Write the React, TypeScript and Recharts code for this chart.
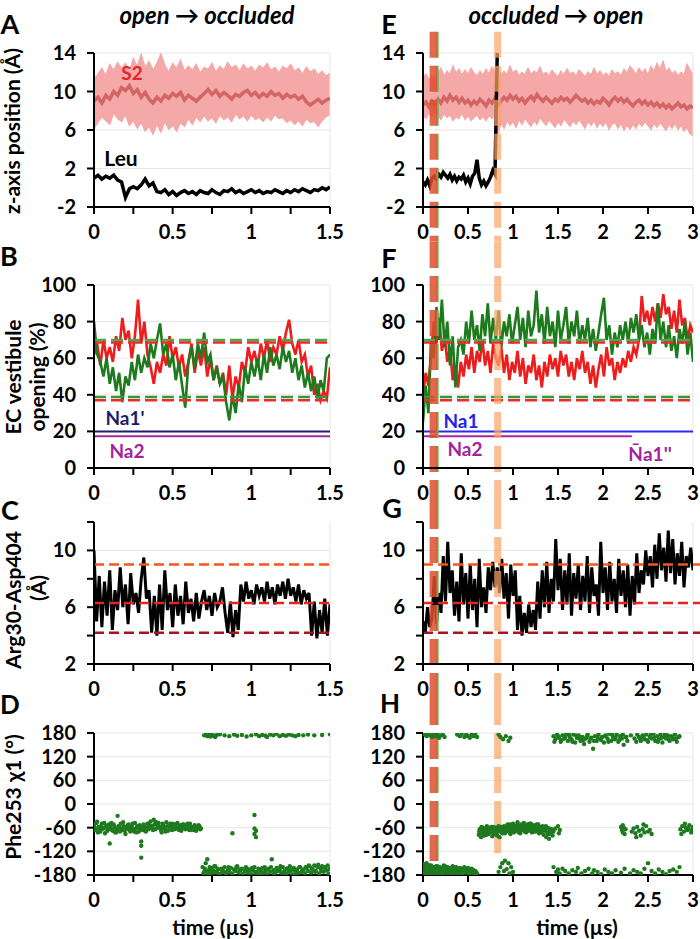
import React from "react"
import { ComposedChart, ScatterChart, Line, Area, Scatter, XAxis, YAxis, CartesianGrid, ReferenceLine } from "recharts"

const FONT = "Lato, 'Open Sans', sans-serif"

// time axes (µs)
const leftTicks = [0, 0.25, 0.5, 0.75, 1, 1.25, 1.5]
const rightTicks = [0, 0.25, 0.5, 0.75, 1, 1.25, 1.5, 1.75, 2, 2.25, 2.5, 2.75, 3]

// A: z-axis position, open -> occluded (dt 0.025)
const s2HighOpen = [
  11.2, 11.8, 12.4, 11.6, 12.8, 12.2, 13.0, 12.4, 12.9, 12.1,
  13.4, 12.6, 13.8, 12.5, 13.1, 12.2, 12.9, 13.9, 12.7, 12.0,
  12.9, 12.4, 13.2, 12.1, 12.6, 12.2, 12.8, 11.9, 12.5, 12.3,
  12.9, 12.0, 12.6, 12.2, 13.0, 12.4, 12.7, 12.1, 12.8, 12.3,
  12.6, 12.0, 12.7, 12.4, 12.9, 12.2, 12.5, 11.9, 12.6, 12.3,
  12.8, 12.1, 12.4, 11.8, 12.5, 12.0, 12.3, 11.7, 12.1, 11.6,
  11.9,
]
const s2LowOpen = [
  6.2, 6.8, 7.4, 7.0, 6.6, 7.8, 7.2, 6.9, 7.6, 6.5,
  7.0, 6.2, 6.8, 5.9, 6.4, 5.6, 6.6, 5.8, 6.9, 6.1,
  6.5, 5.9, 6.8, 6.4, 7.2, 6.6, 7.4, 6.9, 7.5, 7.0,
  7.3, 6.8, 7.6, 7.1, 7.4, 6.9, 7.7, 7.2, 7.5, 7.0,
  7.6, 7.1, 7.3, 6.9, 7.4, 7.0, 7.6, 7.2, 7.3, 6.8,
  7.1, 6.6, 7.0, 6.5, 7.2, 6.8, 6.9, 6.4, 7.0, 7.4,
  7.6,
]
const s2MidOpen = [
  9.0, 9.4, 8.8, 9.6, 9.2, 10.0, 9.6, 10.4, 10.1, 10.6,
  9.8, 10.2, 9.4, 9.9, 9.2, 8.8, 9.4, 9.0, 9.6, 9.3,
  9.8, 9.5, 9.9, 9.1, 9.6, 9.3, 9.0, 9.4, 9.8, 10.2,
  9.7, 10.1, 9.5, 9.9, 9.6, 9.2, 9.7, 9.5, 9.9, 10.1,
  9.6, 9.9, 9.4, 9.8, 9.5, 10.0, 9.6, 9.8, 9.3, 9.7,
  9.4, 9.6, 9.2, 9.5, 8.9, 8.6, 8.9, 9.2, 8.8, 9.1,
  9.3,
]
const leuOpen = [
  1.0, 1.3, 0.9, 1.2, 1.0, 1.3, 0.8, 0.6, -1.0, -0.1,
  0.1, -0.1, 0.3, 0.9, 0.2, 0.5, -0.4, -0.5, -0.2, -0.7,
  -0.4, -0.8, -0.5, -0.3, -0.6, -0.4, -0.7, -0.3, -0.5, -0.6,
  -0.2, -0.5, -0.7, -0.3, -0.4, -0.1, -0.5, -0.3, -0.6, -0.4,
  -0.2, -0.5, -0.3, -0.6, -0.4, -0.5, -0.2, -0.4, -0.6, -0.3,
  -0.5, -0.2, -0.4, -0.1, -0.3, -0.5, -0.2, -0.3, 0.0, -0.2,
  0.1,
]

// E: z-axis position, occluded -> open (dt 1/30)
const s2HighClosed = [
  11.4, 11.8, 11.2, 11.6, 11.3, 11.9, 12.4, 11.6, 12.1, 11.8,
  12.6, 11.9, 12.3, 11.7, 12.2, 11.8, 12.4, 11.9, 11.6, 12.1,
  11.7, 12.3, 11.8, 12.5, 12.0, 12.3, 11.7, 12.1, 11.8, 12.6,
  11.9, 12.2, 11.6, 12.0, 11.7, 12.4, 11.8, 12.1, 11.9, 12.5,
  11.7, 12.0, 11.6, 12.2, 11.8, 11.5, 12.1, 11.7, 12.3, 11.8,
  12.0, 11.6, 12.2, 11.9, 11.5, 12.0, 11.7, 12.4, 11.8, 12.1,
  11.6, 11.9, 11.5, 12.2, 11.8, 12.0, 11.6, 12.3, 11.9, 12.6,
  12.2, 11.8, 12.4, 11.9, 12.3, 11.7, 12.6, 12.1, 12.9, 12.3,
  13.1, 12.0, 12.4, 11.8, 12.1, 11.6, 12.0, 11.7, 12.8, 12.2,
  11.8,
]
const s2LowClosed = [
  7.6, 7.2, 7.8, 7.4, 7.9, 7.5, 7.1, 7.7, 7.3, 7.6,
  7.0, 7.4, 7.2, 7.8, 7.1, 7.5, 7.0, 7.3, 7.6, 7.1,
  7.4, 7.0, 7.5, 7.2, 7.6, 5.6, 6.8, 6.2, 7.0, 6.5,
  6.9, 6.3, 7.1, 6.6, 7.2, 6.8, 6.4, 7.0, 6.6, 7.3,
  6.9, 6.5, 7.1, 6.7, 6.3, 6.9, 6.5, 7.2, 6.8, 6.4,
  7.0, 6.6, 7.1, 6.7, 6.2, 6.9, 6.5, 7.0, 6.3, 6.8,
  6.4, 6.9, 6.1, 6.6, 6.8, 6.2, 6.7, 6.0, 6.5, 6.1,
  6.6, 6.2, 6.8, 6.4, 6.9, 6.5, 6.1, 6.7, 6.3, 6.8,
  6.4, 6.0, 6.6, 6.2, 6.7, 6.1, 6.5, 5.9, 6.3, 5.6,
  5.4,
]
const s2MidClosed = [
  8.6, 8.9, 8.4, 9.0, 8.7, 9.2, 8.8, 9.4, 9.0, 9.6,
  9.1, 9.4, 8.9, 9.3, 8.8, 9.1, 8.6, 9.0, 8.7, 9.2,
  8.9, 8.5, 9.1, 8.8, 9.3, 8.6, 9.0, 9.4, 9.1, 9.6,
  9.2, 9.5, 9.0, 9.3, 8.8, 9.2, 9.5, 9.1, 9.7, 9.3,
  9.0, 9.4, 9.1, 8.8, 9.2, 9.0, 9.4, 9.1, 9.3, 8.9,
  9.2, 9.6, 9.3, 9.0, 9.2, 8.8, 9.1, 8.7, 9.0, 8.8,
  9.3, 9.0, 8.6, 9.1, 9.4, 9.0, 9.3, 8.9, 9.2, 8.8,
  8.5, 8.9, 9.1, 8.7, 9.0, 8.6, 8.9, 8.5, 8.8, 8.4,
  8.7, 8.3, 8.6, 8.2, 8.5, 8.8, 8.4, 8.6, 8.2, 8.5,
  8.3,
]
// Leu, dt 0.025 up to 0.825 where it leaves the site
const leuClosed = [
  0.6, 0.3, 0.8, 0.2, 1.0, 1.2, 0.9, 1.4, 1.1, 1.6,
  1.3, 1.0, 1.4, 0.8, 1.2, 0.7, 1.1, 0.9, 1.3, 0.6,
  1.0, 0.4, 1.2, 1.5, 2.9, 1.0, 0.3, 0.7, 0.2, 0.6,
  1.1, 1.8, 1.4, 14,
]

// B: EC vestibule opening (%), dt 0.02
const vestRedOpen = [
  62, 68, 56, 70, 60, 66, 58, 72, 64, 82,
  70, 75, 60, 72, 92, 68, 80, 62, 55, 46,
  58, 52, 62, 56, 72, 60, 66, 55, 62, 50,
  58, 68, 52, 64, 56, 66, 50, 60, 48, 56,
  46, 52, 40, 56, 38, 50, 44, 58, 52, 66,
  58, 64, 55, 68, 60, 70, 58, 66, 62, 72,
  64, 74, 81, 68, 62, 70, 58, 62, 50, 56,
  40, 46, 37, 42, 38, 55,
]
const vestGreenOpen = [
  80, 62, 58, 50, 60, 46, 55, 42, 52, 36,
  50, 45, 58, 48, 62, 52, 60, 55, 68, 60,
  70, 79, 62, 68, 55, 62, 48, 58, 45, 33,
  58, 66, 54, 68, 60, 74, 58, 62, 48, 55,
  46, 50, 36, 26, 40, 30, 46, 36, 55, 46,
  58, 50, 60, 48, 62, 52, 66, 56, 62, 54,
  66, 58, 64, 52, 60, 48, 56, 44, 52, 42,
  50, 38, 48, 42, 60, 62,
]

// F: EC vestibule opening (%), dt 0.03
const vestRedClosed = [
  40, 52, 45, 62, 80, 68, 82, 64, 72, 58,
  66, 48, 56, 44, 58, 50, 62, 54, 66, 52,
  64, 58, 70, 56, 64, 52, 68, 60, 56, 66,
  52, 62, 48, 58, 52, 64, 50, 60, 46, 56,
  52, 62, 48, 56, 44, 58, 50, 62, 54, 60,
  50, 64, 56, 62, 50, 58, 48, 60, 54, 64,
  52, 58, 46, 56, 44, 54, 62, 50, 66, 56,
  60, 48, 58, 52, 60, 55, 64, 58, 66, 62,
  70, 94, 80, 86, 78, 88, 80, 90, 82, 95,
  84, 88, 76, 86, 74, 92, 78, 82, 70, 78,
  74,
]
const vestGreenClosed = [
  25, 45, 30, 70, 60, 88, 70, 92, 66, 80,
  56, 72, 44, 66, 70, 62, 80, 68, 86, 70,
  78, 64, 84, 72, 90, 68, 82, 70, 86, 66,
  80, 72, 84, 68, 78, 88, 70, 82, 66, 86,
  72, 78, 97, 74, 84, 68, 88, 72, 80, 66,
  86, 70, 78, 88, 68, 80, 72, 86, 68, 78,
  70, 82, 66, 76, 64, 74, 84, 93, 70, 78,
  62, 74, 66, 78, 70, 80, 68, 82, 74, 84,
  70, 78, 66, 74, 62, 76, 68, 90, 70, 80,
  66, 78, 64, 72, 60, 76, 68, 80, 62, 74,
  58,
]

// C: Arg30-Asp404 distance (Å), dt 1/60
const saltOpen = [
  10.0, 5.0, 8.2, 4.6, 7.8, 5.4, 8.6, 4.4, 7.2, 5.8, 8.8,
  6.0, 7.6, 4.8, 8.4, 6.2, 7.0, 5.6, 8.0, 9.5, 6.6,
  7.2, 4.2, 6.8, 4.0, 7.6, 4.4, 8.6, 5.8, 7.0, 4.6,
  7.6, 5.4, 6.8, 4.8, 7.8, 5.6, 6.6, 5.0, 7.0, 5.2,
  6.4, 7.2, 5.8, 6.8, 5.4, 7.0, 6.0, 6.4, 7.4, 5.6,
  4.2, 6.4, 3.9, 5.8, 4.4, 7.6, 6.4, 7.8, 6.6, 7.2,
  6.2, 7.6, 6.8, 7.4, 6.4, 7.8, 6.6, 7.4, 6.2, 7.6,
  6.8, 7.8, 6.6, 8.0, 6.8, 7.4, 6.4, 7.6, 6.2, 7.2,
  6.6, 7.0, 4.0, 6.4, 3.8, 5.8, 4.2, 6.6, 4.0, 6.2,
]
// G: Arg30-Asp404 distance (Å), dt 0.025
const saltClosed = [
  5.0, 4.2, 6.0, 4.6, 5.2, 8.2, 4.8, 7.0, 5.6, 9.6,
  6.4, 10.6, 7.0, 8.6, 5.4, 7.8, 5.0, 9.8, 6.2, 8.4,
  5.2, 9.0, 5.8, 8.0, 4.6, 9.4, 6.0, 7.4, 5.6, 8.8,
  7.2, 9.2, 7.4, 8.8, 7.0, 9.4, 6.6, 8.4, 5.2, 9.0,
  6.8, 8.6, 4.4, 6.8, 4.0, 5.6, 4.2, 6.2, 4.6, 5.8,
  4.4, 7.8, 5.2, 8.6, 6.0, 9.2, 5.6, 8.0, 6.4, 10.8,
  7.2, 9.4, 5.8, 8.6, 6.2, 9.8, 5.4, 8.4, 6.6, 9.0,
  5.8, 8.2, 6.4, 9.6, 5.6, 8.8, 6.8, 7.6, 5.4, 10.6,
  7.0, 8.8, 5.8, 9.2, 6.4, 8.0, 5.6, 9.4, 6.8, 8.6,
  6.0, 9.0, 5.4, 8.2, 6.2, 9.8, 7.0, 8.6, 7.6, 10.0,
  8.2, 9.6, 7.4, 10.4, 8.0, 11.2, 8.6, 10.2, 7.8, 11.4,
  8.4, 10.8, 7.6, 9.8, 8.2, 10.6, 7.4, 9.6, 8.8, 10.2,
  8.6,
]

// D: Phe253 chi1 (deg), open -> occluded, [time, angle]
const chiOpenGauche: [number, number][] = [
  [0, -52], [0.005, -60], [0.01, -66], [0.015, -48], [0.02, -45], [0.025, -72], [0.03, -58], [0.035, -64], [0.04, -70], [0.045, -56],
  [0.05, -50], [0.055, -62], [0.06, -62], [0.065, -48], [0.07, -74], [0.075, -58], [0.08, -55], [0.085, -68], [0.09, -64], [0.095, -52],
  [0.1, -100], [0.105, -58], [0.11, -48], [0.115, -66], [0.12, -68], [0.125, -52], [0.13, -58], [0.135, -72], [0.14, -72], [0.145, -64],
  [0.15, -30], [0.155, -56], [0.16, -60], [0.165, -70], [0.17, -50], [0.175, -62], [0.18, -66], [0.185, -46], [0.19, -56], [0.195, -68],
  [0.2, -76], [0.205, -60], [0.21, -62], [0.215, -54], [0.22, -52], [0.225, -66], [0.23, -70], [0.235, -58], [0.24, -58], [0.245, -50],
  [0.25, -64], [0.255, -70], [0.26, -48], [0.265, -62], [0.27, -72], [0.275, -56], [0.28, -60], [0.285, -70], [0.29, -54], [0.295, -64],
  [0.3, -95], [0.3, -106], [0.3, -136], [0.305, -58], [0.31, -66], [0.315, -52], [0.32, -58], [0.325, -68], [0.33, -70], [0.335, -60],
  [0.34, -50], [0.345, -64], [0.35, -62], [0.355, -54], [0.36, -44], [0.365, -58], [0.37, -56], [0.375, -66], [0.38, -40], [0.385, -52],
  [0.39, -64], [0.395, -46], [0.4, -52], [0.405, -60], [0.41, -48], [0.415, -58], [0.42, -60], [0.425, -66], [0.43, -72], [0.435, -50],
  [0.44, -54], [0.445, -62], [0.45, -62], [0.455, -70], [0.46, -46], [0.465, -56], [0.47, -68], [0.475, -58], [0.48, -56], [0.485, -50],
  [0.49, -60], [0.495, -66], [0.5, -50], [0.505, -58], [0.51, -64], [0.515, -52], [0.52, -58], [0.525, -62], [0.53, -48], [0.535, -60],
  [0.54, -66], [0.545, -56], [0.55, -54], [0.555, -68], [0.56, -60], [0.565, -52], [0.57, -52], [0.575, -58], [0.58, -64], [0.585, -56],
  [0.59, -56], [0.595, -50], [0.6, -62], [0.605, -66], [0.61, -50], [0.615, -60], [0.62, -66], [0.625, -58], [0.63, -58], [0.635, -66],
  [0.64, -54], [0.645, -62], [0.65, -68], [0.655, -58], [0.66, -60], [0.665, -54], [0.67, -56], [0.675, -64], [0.68, -62],
  [0.88, -74], [1.02, -28], [1.02, -62], [1.03, -68], [1.02, -76], [1.03, -84],
]
const chiOpenTransLow: [number, number][] = [
  [0.69, -160], [0.695, -176], [0.7, -172], [0.705, -164], [0.71, -150], [0.715, -170], [0.72, -140], [0.725, -178], [0.73, -168], [0.735, -160],
  [0.74, -176], [0.745, -166], [0.75, -162], [0.755, -174], [0.76, -170], [0.765, -158], [0.77, -158], [0.775, -172], [0.78, -174], [0.785, -164],
  [0.79, -166], [0.795, -178], [0.8, -178], [0.81, -164], [0.815, -172], [0.82, -170], [0.83, -160], [0.835, -174], [0.84, -176], [0.85, -168],
  [0.855, -160], [0.86, -172], [0.87, -162], [0.875, -176], [0.88, -178], [0.89, -166], [0.9, -170], [0.905, -160], [0.91, -158], [0.92, -174],
  [0.925, -166], [0.93, -168], [0.94, -164], [0.945, -178], [0.95, -176], [0.96, -170], [0.965, -160], [0.97, -162], [0.98, -174], [0.985, -168],
  [0.99, -166], [1.0, -178], [1.005, -162], [1.01, -168], [1.02, -160], [1.025, -174], [1.03, -172], [1.04, -176], [1.045, -164], [1.05, -166],
  [1.06, -170], [1.065, -178], [1.07, -162], [1.08, -174], [1.085, -160], [1.09, -168], [1.1, -178], [1.105, -166], [1.11, -164], [1.12, -172],
  [1.125, -160], [1.13, -140], [1.14, -168], [1.145, -176], [1.15, -176], [1.16, -162], [1.165, -170], [1.17, -170], [1.18, -166], [1.185, -158],
  [1.19, -174], [1.2, -160], [1.205, -176], [1.21, -170], [1.22, -176], [1.225, -164], [1.23, -164], [1.24, -172], [1.245, -158], [1.25, -168],
  [1.26, -178], [1.265, -166], [1.27, -162], [1.28, -170], [1.285, -176], [1.29, -166], [1.3, -174], [1.305, -160], [1.31, -160], [1.32, -172],
  [1.325, -166], [1.33, -168], [1.34, -176], [1.345, -160], [1.35, -162], [1.36, -170], [1.365, -156], [1.37, -158], [1.38, -174], [1.385, -164],
  [1.39, -166], [1.4, -156], [1.405, -172], [1.41, -170], [1.42, -160], [1.425, -154], [1.43, -176], [1.44, -164], [1.445, -170], [1.45, -158],
  [1.46, -172], [1.465, -162], [1.47, -160], [1.48, -168], [1.485, -156], [1.49, -176], [1.5, -164],
]
const chiOpenTransHigh: [number, number][] = [
  [0.7, 174], [0.71, 176], [0.72, 172], [0.73, 175], [0.74, 171], [0.75, 176], [0.76, 173], [0.77, 170], [0.78, 175], [0.8, 177],
  [0.83, 174], [0.86, 172], [0.89, 176], [0.91, 173], [0.94, 175], [0.97, 171], [1.0, 174], [1.03, 177], [1.05, 172], [1.07, 175],
  [1.09, 173], [1.1, 170], [1.12, 176], [1.14, 174], [1.16, 178], [1.18, 172], [1.2, 175], [1.22, 173], [1.24, 176], [1.26, 174],
  [1.28, 172], [1.3, 175], [1.33, 174], [1.36, 176], [1.4, 174], [1.45, 175], [1.5, 177],
]

// H: Phe253 chi1 (deg), occluded -> open, [time, angle]
const chiClosedTransLow: [number, number][] = [
  [0, -165], [0.01, -175], [0.02, -158], [0.03, -170], [0.04, -150], [0.05, -178], [0.06, -162], [0.07, -172], [0.08, -166], [0.09, -156],
  [0.1, -176], [0.11, -168], [0.12, -160], [0.13, -174], [0.14, -164], [0.15, -178], [0.16, -158], [0.17, -170], [0.18, -166], [0.19, -176],
  [0.2, -162], [0.21, -172], [0.22, -168], [0.23, -156], [0.24, -174], [0.25, -164], [0.26, -170], [0.27, -160], [0.28, -176], [0.29, -166],
  [0.3, -172], [0.31, -162], [0.32, -168], [0.33, -158], [0.34, -174], [0.35, -164], [0.36, -170], [0.37, -160], [0.38, -176], [0.39, -166],
  [0.4, -172], [0.41, -162], [0.42, -168], [0.43, -178], [0.44, -164], [0.45, -170], [0.46, -160], [0.47, -174], [0.48, -166], [0.49, -172],
  [0.5, -162], [0.51, -176], [0.52, -166], [0.53, -170], [0.54, -164], [0.55, -174], [0.56, -168], [0.57, -176], [0.58, -170], [0.59, -172],
  [0.6, -176], [0.005, -152], [0.025, -166], [0.045, -172], [0.065, -155], [0.085, -174], [0.105, -162], [0.125, -170], [0.145, -158], [0.165, -176],
  [0.185, -160], [0.205, -168], [0.225, -176], [0.245, -158], [0.265, -172], [0.285, -162], [0.305, -168], [0.325, -176], [0.345, -160], [0.365, -172],
  [0.84, -172], [0.86, -160], [0.88, -150], [0.9, -170], [0.91, -144], [0.93, -165], [0.95, -150], [0.96, -176], [0.98, -160], [1.0, -172],
  [1.45, -160], [1.48, -172], [1.5, -166], [1.52, -176], [1.55, -164], [1.58, -170], [1.62, -176], [1.66, -168], [1.7, -172], [1.72, -162],
  [1.76, -176], [1.8, -170], [1.84, -164], [1.88, -176], [1.9, -168], [1.94, -172], [1.98, -178], [2.02, -166], [2.06, -172], [2.1, -176],
  [2.14, -168], [2.2, -174], [2.24, -164], [2.3, -176], [2.34, -168], [2.38, -172], [2.42, -176], [2.46, -164], [2.5, -150], [2.54, -170],
  [2.58, -176], [2.62, -166], [2.66, -172], [2.7, -178], [2.74, -170], [2.78, -166], [2.82, -172], [2.85, -160],
]
const chiClosedGauche: [number, number][] = [
  [0.62, -78], [0.63, -64], [0.64, -70], [0.65, -58], [0.66, -74], [0.67, -66], [0.68, -80], [0.69, -62], [0.7, -72], [0.71, -56],
  [0.72, -68], [0.73, -76], [0.74, -60], [0.75, -70], [0.76, -64], [0.77, -82], [0.78, -58], [0.79, -72], [0.8, -66], [0.81, -76],
  [0.82, -62], [0.83, -70], [0.84, -56], [0.85, -84], [0.86, -64], [0.87, -72], [0.88, -60], [0.89, -68], [0.9, -56], [0.91, -74],
  [0.92, -62], [0.93, -66], [0.94, -52], [0.95, -70], [0.96, -60], [0.97, -76], [0.98, -58], [0.99, -66], [1.0, -50], [1.01, -72],
  [1.02, -62], [1.03, -56], [1.04, -68], [1.05, -46], [1.06, -64], [1.07, -58], [1.08, -74], [1.09, -52], [1.1, -66], [1.11, -60],
  [1.12, -48], [1.13, -70], [1.14, -56], [1.15, -64], [1.16, -52], [1.17, -68], [1.18, -58], [1.19, -62], [1.2, -50], [1.21, -72],
  [1.22, -56], [1.23, -64], [1.24, -54], [1.25, -70], [1.26, -60], [1.27, -66], [1.28, -52], [1.29, -74], [1.3, -58], [1.31, -64],
  [1.32, -70], [1.33, -56], [1.34, -78], [1.35, -62], [1.36, -68], [1.37, -84], [1.38, -60], [1.39, -72], [1.4, -88], [1.41, -66],
  [1.42, -76], [1.43, -64], [1.44, -80], [1.45, -70],
  [0.625, -70], [0.645, -84], [0.665, -60], [0.685, -70], [0.705, -78], [0.725, -62], [0.745, -72], [0.765, -58], [0.785, -76], [0.805, -60],
  [0.825, -80], [0.845, -66], [0.865, -58], [0.885, -74], [0.905, -66], [0.925, -56], [0.945, -64], [0.965, -52], [0.985, -72], [1.005, -58],
  [1.025, -66], [1.045, -54], [1.065, -72], [1.085, -60], [1.105, -54], [1.125, -66], [1.145, -72], [1.165, -58], [1.185, -50], [1.205, -64],
  [1.225, -70], [1.245, -60], [1.265, -52], [1.285, -64], [1.305, -72], [1.325, -62], [1.345, -66], [1.365, -56], [1.385, -76], [1.405, -62],
  [1.425, -70], [1.47, -62], [1.5, -56], [1.51, -74], [1.52, -66],
  [2.2, -58], [2.21, -66], [2.22, -72], [2.23, -60], [2.24, -76], [2.25, -64], [2.22, -54],
  [2.32, -70], [2.34, -62], [2.36, -74], [2.38, -58], [2.4, -68], [2.42, -80], [2.44, -64], [2.46, -72], [2.48, -56], [2.5, -70],
  [2.52, -66], [2.54, -76], [2.37, -84], [2.45, -52],
  [2.86, -64], [2.88, -56], [2.9, -70], [2.92, -60], [2.94, -66], [2.96, -54], [2.98, -72], [3.0, -58], [2.87, -76], [2.91, -50],
  [2.95, -62], [2.99, -66],
]
const chiClosedTransHigh: [number, number][] = [
  [0.02, 176], [0.04, 172], [0.06, 178], [0.08, 174], [0.1, 170], [0.12, 176], [0.14, 172], [0.16, 178], [0.18, 168], [0.2, 174],
  [0.22, 176], [0.24, 170], [0.38, 176], [0.41, 172], [0.43, 178], [0.46, 170], [0.48, 176], [0.5, 172], [0.52, 168], [0.54, 176],
  [0.56, 172], [0.58, 178], [0.6, 170], [0.84, 176], [0.86, 170], [0.89, 164], [0.92, 172], [0.95, 160], [0.97, 168],
  [1.45, 172], [1.47, 164], [1.49, 176], [1.51, 168], [1.53, 158], [1.55, 174], [1.57, 166], [1.59, 178], [1.61, 160], [1.63, 170],
  [1.65, 164], [1.67, 176], [1.69, 156], [1.71, 168], [1.73, 174], [1.75, 160], [1.77, 170], [1.79, 152], [1.81, 166], [1.83, 176],
  [1.85, 158], [1.87, 168], [1.89, 140], [1.91, 172], [1.93, 160], [1.95, 176], [1.97, 164], [1.99, 170], [2.01, 156], [2.03, 174],
  [2.05, 166], [2.07, 178], [2.09, 160], [2.11, 170], [2.13, 164], [2.15, 176], [2.17, 158], [2.19, 172], [2.21, 166], [2.23, 150],
  [2.25, 170], [2.27, 160], [2.31, 174], [2.35, 166], [2.38, 176], [2.4, 170], [2.42, 160], [2.44, 174], [2.46, 164], [2.48, 176],
  [2.5, 158], [2.52, 170], [2.54, 166], [2.56, 178], [2.58, 160], [2.6, 172], [2.62, 164], [2.64, 176], [2.66, 156], [2.68, 170],
  [2.7, 166], [2.72, 174], [2.74, 160], [2.76, 172], [2.78, 164], [2.8, 176], [2.82, 158], [2.84, 170],
  [1.46, 158], [1.5, 172], [1.54, 162], [1.58, 170], [1.62, 176], [1.66, 158], [1.7, 174], [1.74, 166], [1.78, 162], [1.82, 172],
  [1.86, 166], [1.9, 160], [1.94, 168], [1.98, 162], [2.02, 172], [2.06, 158], [2.1, 176], [2.14, 168], [2.18, 162], [2.22, 176],
  [2.26, 170], [2.37, 158], [2.41, 166], [2.45, 170], [2.49, 162], [2.53, 176], [2.57, 168], [2.61, 158], [2.65, 168], [2.69, 176],
  [2.73, 164], [2.77, 170], [2.81, 166], [2.85, 172],
]

// transition times (µs) marked on the right column
const tLeave = 0.115
const tLeaveGreen = 0.16
const tRelease = 0.83

// ---------- helpers ----------
function trace(values: number[], tEnd: number) {
  return values.map((v, i) => ({ t: (i * tEnd) / (values.length - 1), v }))
}
function band(low: number[], high: number[], tEnd: number) {
  const n = Math.min(low.length, high.length)
  return low.slice(0, n).map((lo, i) => ({ t: (i * tEnd) / (n - 1), band: [lo, high[i]] }))
}
function pts(arr: [number, number][]) {
  return arr.map(([t, chi]) => ({ t, chi }))
}

const tickStyle = { fontFamily: FONT, fontWeight: 700, fontSize: 20, fill: "#000" }
const AX = { stroke: "#000", strokeWidth: 2 }
const GRID = "#e6e6e6"

const xTick = (props: any) => {
  const { x, y, payload } = props
  const v = payload.value
  if (Math.abs(v * 2 - Math.round(v * 2)) > 1e-6) return <g />
  return (
    <text x={x} y={y} dy="0.71em" textAnchor="middle" style={tickStyle}>
      {String(v)}
    </text>
  )
}
const yTick = (base: number, every: number) => (props: any) => {
  const { x, y, payload } = props
  const k = (payload.value - base) / every
  if (Math.abs(k - Math.round(k)) > 1e-6) return <g />
  return (
    <text x={x} y={y} dy="0.35em" textAnchor="end" style={tickStyle}>
      {payload.value}
    </text>
  )
}

function Txt({ x, y, size = 20, color = "#000", italic = false, rotate = false, children }: any) {
  return (
    <div
      style={{
        position: "absolute",
        left: x,
        top: y,
        transform: `translate(-50%, -50%)${rotate ? " rotate(-90deg)" : ""}`,
        whiteSpace: "nowrap",
        fontFamily: FONT,
        fontWeight: 700,
        fontStyle: italic ? "italic" : "normal",
        fontSize: size,
        lineHeight: 1.1,
        color,
      }}
    >
      {children}
    </div>
  )
}

// dashed vertical markers crossing the right column
function markers(top: number, bottom: number, orangeBottom = bottom) {
  return [
    <ReferenceLine key="mg" segment={[{ x: tLeaveGreen, y: top }, { x: tLeaveGreen, y: bottom }]} ifOverflow="visible" stroke="#5cb85c" strokeWidth={2.5} strokeDasharray="26 8" />,
    <ReferenceLine key="mr" segment={[{ x: tLeave, y: top }, { x: tLeave, y: bottom }]} ifOverflow="visible" stroke="rgba(222,78,46,0.85)" strokeWidth={7.5} strokeDasharray="26 8" />,
    <ReferenceLine key="mo" segment={[{ x: tRelease, y: top }, { x: tRelease, y: orangeBottom }]} ifOverflow="visible" stroke="rgba(249,165,105,0.72)" strokeWidth={7} strokeDasharray="26 8" />,
  ]
}

const dot = (props: any) => <circle cx={props.cx} cy={props.cy} r={2.2} fill="#1f7a1f" />

const LEFT = { left: 40, width: 300, yw: 54, right: 10, tMax: 1.5, ticks: leftTicks }
const RIGHT = { left: 370, width: 330, yw: 53, right: 7, tMax: 3, ticks: rightTicks }

function xAxis(col: typeof LEFT, height = 35) {
  return (
    <XAxis dataKey="t" type="number" domain={[0, col.tMax]} ticks={col.ticks} tick={xTick} tickSize={7} tickMargin={11}
      height={height} axisLine={AX} tickLine={AX} allowDataOverflow />
  )
}
function yAxis(col: typeof LEFT, domain: number[], ticks: number[], tick: any, dataKey?: string) {
  return (
    <YAxis dataKey={dataKey} type="number" domain={domain} ticks={ticks} tick={tick} tickSize={7} tickMargin={11}
      width={col.yw} axisLine={AX} tickLine={AX} allowDataOverflow />
  )
}

function ZPanel({ col, top, high, low, mid, leu, leuEnd, marks }: any) {
  return (
    <div style={{ position: "absolute", left: col.left, top }}>
      <ComposedChart width={col.width} height={214} margin={{ top: 25, right: col.right, bottom: 0, left: 0 }}>
        <CartesianGrid horizontal vertical={false} stroke={GRID} horizontalValues={[2, 6, 10, 14]} />
        <ReferenceLine x={col.tMax} stroke={GRID} />
        {xAxis(col)}
        {yAxis(col, [-2, 14], [-2, 2, 6, 10, 14], yTick(-2, 4))}
        <Area data={band(low, high, col.tMax)} dataKey="band" type="linear" stroke="#f4a8a8" strokeWidth={1.5} fill="#f4a8a8" fillOpacity={1} isAnimationActive={false} dot={false} activeDot={false} />
        <Line data={trace(mid, col.tMax)} dataKey="v" type="linear" stroke="#d46565" strokeWidth={3.5} dot={false} activeDot={false} isAnimationActive={false} />
        <Line data={trace(leu, leuEnd)} dataKey="v" type="linear" stroke="#000" strokeWidth={3.5} dot={false} activeDot={false} isAnimationActive={false} />
        {marks ? markers(16.2, -5.6) : null}
      </ComposedChart>
    </div>
  )
}

function VestPanel({ col, top, red, green, right }: any) {
  return (
    <div style={{ position: "absolute", left: col.left, top }}>
      <ComposedChart width={col.width} height={261} margin={{ top: 43, right: col.right, bottom: 0, left: 0 }}>
        <CartesianGrid horizontal vertical={false} stroke={GRID} horizontalValues={[20, 40, 60, 80, 100]} />
        <ReferenceLine x={col.tMax} stroke={GRID} />
        {xAxis(col)}
        {yAxis(col, [0, 100], [0, 20, 40, 60, 80, 100], yTick(0, 20))}
        <Line data={trace(red, col.tMax)} dataKey="v" type="linear" stroke="#ee1d1d" strokeWidth={2.6} dot={false} activeDot={false} isAnimationActive={false} />
        <Line data={trace(green, col.tMax)} dataKey="v" type="linear" stroke="#1d7a1d" strokeWidth={2.6} dot={false} activeDot={false} isAnimationActive={false} />
        <ReferenceLine y={70} stroke="#3fae49" strokeWidth={2.5} strokeDasharray="12 5" />
        <ReferenceLine y={68.6} stroke="#ee2a2a" strokeWidth={2.5} strokeDasharray="12 5" />
        <ReferenceLine y={38.8} stroke="#2e9a3a" strokeWidth={2.5} strokeDasharray="12 5" />
        <ReferenceLine y={37} stroke="#ee2a2a" strokeWidth={2.5} strokeDasharray="12 5" />
        {right ? (
          <ReferenceLine y={20} stroke="#2a2af0" strokeWidth={2} />
        ) : (
          <ReferenceLine y={20} stroke="#1e1e6e" strokeWidth={2} />
        )}
        {right ? (
          <ReferenceLine segment={[{ x: 0, y: 17.3 }, { x: 2.32, y: 17.3 }]} stroke="#a524a5" strokeWidth={2} />
        ) : (
          <ReferenceLine y={17.3} stroke="#a524a5" strokeWidth={2} />
        )}
        {right ? markers(123.5, -19.1) : null}
      </ComposedChart>
    </div>
  )
}

function SaltPanel({ col, top, values, right }: any) {
  const xEnd = right ? 3.08 : 1.5
  return (
    <div style={{ position: "absolute", left: col.left, top }}>
      <ComposedChart width={col.width} height={196} margin={{ top: 19, right: col.right, bottom: 0, left: 0 }}>
        <CartesianGrid horizontal vertical={false} stroke={GRID} horizontalValues={[6, 10]} />
        <ReferenceLine x={col.tMax} stroke={GRID} />
        {xAxis(col)}
        {yAxis(col, [2, 12], [2, 4, 6, 8, 10, 12], yTick(2, 4))}
        <Line data={trace(values, col.tMax)} dataKey="v" type="linear" stroke="#000" strokeWidth={3} dot={false} activeDot={false} isAnimationActive={false} />
        <ReferenceLine segment={[{ x: 0, y: 9 }, { x: xEnd, y: 9 }]} ifOverflow="visible" stroke="#f2561e" strokeWidth={2.5} strokeDasharray="10 5" />
        <ReferenceLine segment={[{ x: 0, y: 6.3 }, { x: xEnd, y: 6.3 }]} ifOverflow="visible" stroke="#e62222" strokeWidth={2.5} strokeDasharray="10 5" />
        <ReferenceLine segment={[{ x: 0, y: 4.2 }, { x: xEnd, y: 4.2 }]} ifOverflow="visible" stroke="#a3161e" strokeWidth={2.5} strokeDasharray="10 5" />
        {right ? markers(13.34, -0.46) : null}
      </ComposedChart>
    </div>
  )
}

function ChiPanel({ col, top, sets, right }: any) {
  return (
    <div style={{ position: "absolute", left: col.left, top }}>
      <ScatterChart width={col.width} height={211} margin={{ top: 34, right: col.right, bottom: 0, left: 0 }}>
        <CartesianGrid horizontal vertical={false} stroke={GRID} horizontalValues={[-120, -60, 0, 60, 120, 180]} />
        <ReferenceLine x={col.tMax} stroke={GRID} />
        {xAxis(col)}
        {yAxis(col, [-180, 180], [-180, -120, -60, 0, 60, 120, 180], yTick(-180, 60), "chi")}
        {sets.map((s: [number, number][], i: number) => (
          <Scatter key={i} data={pts(s)} dataKey="chi" shape={dot} isAnimationActive={false} />
        ))}
        {right ? markers(266, -165, -125) : null}
      </ScatterChart>
    </div>
  )
}

export default function App() {
  return (
    <div style={{ position: "absolute", left: 0, top: 0, width: 700, height: 939, background: "#fff", overflow: "hidden" }}>
      <style>{`.recharts-surface{overflow:visible}`}</style>

      <ZPanel col={LEFT} top={28} high={s2HighOpen} low={s2LowOpen} mid={s2MidOpen} leu={leuOpen} leuEnd={1.5} />
      <ZPanel col={RIGHT} top={28} high={s2HighClosed} low={s2LowClosed} mid={s2MidClosed} leu={leuClosed} leuEnd={0.825} marks />
      <VestPanel col={LEFT} top={242} red={vestRedOpen} green={vestGreenOpen} />
      <VestPanel col={RIGHT} top={242} red={vestRedClosed} green={vestGreenClosed} right />
      <SaltPanel col={LEFT} top={503} values={saltOpen} />
      <SaltPanel col={RIGHT} top={503} values={saltClosed} right />
      <ChiPanel col={LEFT} top={699} sets={[chiOpenGauche, chiOpenTransLow, chiOpenTransHigh]} />
      <ChiPanel col={RIGHT} top={699} sets={[chiClosedTransLow, chiClosedGauche, chiClosedTransHigh]} right />

      <Txt x={207} y={15} size={24} italic>open → occluded</Txt>
      <Txt x={556} y={15} size={24} italic>occluded → open</Txt>

      <Txt x={10} y={24} size={27}>A</Txt>
      <Txt x={9} y={256} size={27}>B</Txt>
      <Txt x={10} y={510} size={27}>C</Txt>
      <Txt x={10} y={704} size={26}>D</Txt>
      <Txt x={389} y={24} size={27}>E</Txt>
      <Txt x={389} y={258} size={27}>F</Txt>
      <Txt x={392} y={508} size={27}>G</Txt>
      <Txt x={390} y={703} size={26}>H</Txt>

      <Txt x={12} y={131} size={21} rotate>z-axis position (Å)</Txt>
      <Txt x={13} y={377} size={21} rotate>EC vestibule</Txt>
      <Txt x={37} y={377} size={21} rotate>opening (%)</Txt>
      <Txt x={13} y={600} size={21} rotate>Arg30-Asp404</Txt>
      <Txt x={38} y={588} size={21} rotate>(Å)</Txt>
      <Txt x={13} y={797} size={21} rotate>Phe253 χ1 (°)</Txt>

      <Txt x={213} y={927} size={21}>time (µs)</Txt>
      <Txt x={577} y={927} size={21}>time (µs)</Txt>

      <Txt x={132} y={73} size={19} color="#e3262b">S2</Txt>
      <Txt x={121} y={158} size={21}>Leu</Txt>
      <Txt x={125} y={418} size={19} color="#1c1c6b">Na1'</Txt>
      <Txt x={127} y={451} size={19} color="#a3239f">Na2</Txt>
      <Txt x={461} y={421} size={19} color="#2424e8">Na1</Txt>
      <Txt x={465} y={449} size={19} color="#a3239f">Na2</Txt>
      <Txt x={650} y={454} size={19} color="#a3239f">N&#772;a1''</Txt>
    </div>
  )
}
